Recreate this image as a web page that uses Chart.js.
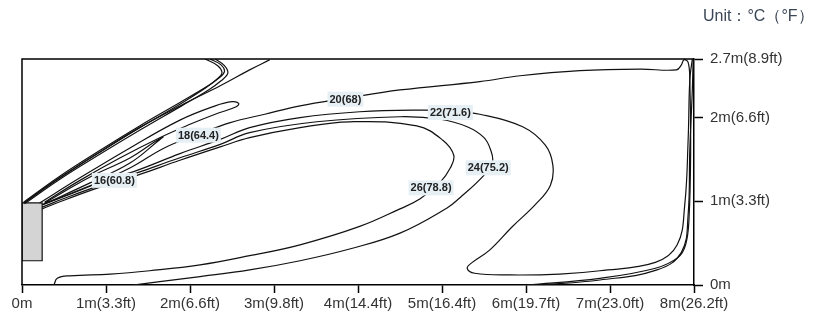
<!DOCTYPE html>
<html>
<head>
<meta charset="utf-8">
<script src="https://cdn.jsdelivr.net/npm/chart.js@4.4.1/dist/chart.umd.min.js"></script>
<style>
  body { margin: 0; background: #fff; }
  #wrap { position: relative; width: 815px; height: 320px; }
  #unit { position: absolute; left: 703px; top: 6px; font: 16px "Liberation Sans", Arial, sans-serif; color: #3b4656; white-space: nowrap; }
</style>
</head>
<body>
<div id="wrap">
  <canvas id="chart" width="815" height="320"></canvas>
  <div id="unit">Unit：°C（°F）</div>
</div>
<script>
// axes
const xTickLabels = ['0m', '1m(3.3ft)', '2m(6.6ft)', '3m(9.8ft)', '4m(14.4ft)', '5m(16.4ft)', '6m(19.7ft)', '7m(23.0ft)', '8m(26.2ft)'];
const yTickValues = [0, 1, 2, 2.7];
const yTickLabels = ['0m', '1m(3.3ft)', '2m(6.6ft)', '2.7m(8.9ft)'];

// indoor unit outline (m)
const unitBox = [[0, 0.98], [0.24, 0.98], [0.24, 0.29], [0, 0.29], [0, 0.98]];

// contour lines, [x m, y m]
const jetOuterA = [[0.02,0.98],[0.45,1.28],[0.93,1.59],[1.40,1.88],[1.88,2.16],[2.18,2.35],[2.31,2.45],[2.38,2.53],[2.33,2.62],[2.18,2.70]];
const jetOuterB = [[0.02,0.99],[0.45,1.30],[0.93,1.61],[1.40,1.90],[1.88,2.18],[2.20,2.37],[2.34,2.47],[2.41,2.55],[2.37,2.63],[2.24,2.70]];
const jetOuterC = [[0.03,0.97],[0.46,1.27],[0.94,1.57],[1.42,1.86],[1.90,2.14],[2.22,2.33],[2.37,2.44],[2.45,2.53],[2.41,2.62],[2.30,2.70]];
const jetToTop = [[0.02,0.98],[0.45,1.28],[0.93,1.59],[1.40,1.88],[1.94,2.17],[2.36,2.38],[2.71,2.57],[2.95,2.69]];
const tongue18 = [[0.21,0.98],[0.69,1.28],[1.29,1.64],[1.88,1.97],[2.30,2.14],[2.50,2.19],[2.58,2.17],[2.55,2.13],[2.30,2.04],[2.00,1.92],[1.64,1.76],[1.17,1.52],[0.69,1.25],[0.27,0.99]];
const tongue16 = [[0.27,0.98],[0.81,1.29],[1.29,1.52],[1.58,1.71],[1.68,1.77],[1.62,1.72],[1.29,1.46],[0.81,1.22],[0.27,0.97]];
const line20 = [[0.25,0.96],[0.81,1.18],[1.29,1.40],[1.70,1.64],[2.10,1.80],[2.48,1.94],[2.89,2.04],[3.31,2.14],[3.85,2.23],[4.50,2.33],[5.45,2.43],[5.93,2.50],[6.64,2.56],[7.36,2.58],[7.79,2.57],[7.85,2.63],[7.88,2.69],[7.93,2.66],[7.95,2.45],[7.96,1.61],[7.94,0.78],[7.90,0.48],[7.81,0.33],[7.54,0.20],[6.88,0.08],[6.01,0]];
const line22 = [[0.24,0.96],[0.57,1.09],[0.93,1.23],[1.37,1.37],[1.88,1.57],[2.36,1.74],[2.71,1.88],[3.31,2.00],[4.02,2.07],[4.74,2.09],[5.10,2.08],[5.45,2.04],[5.96,1.89],[6.23,1.67],[6.32,1.43],[6.29,1.19],[6.11,0.96],[5.83,0.69],[5.57,0.42],[5.36,0.27],[5.30,0.20],[5.39,0.14],[5.81,0.12],[6.40,0.13],[6.88,0.17],[7.54,0.27],[7.80,0.48],[7.89,0.96],[7.93,1.73],[7.95,2.45],[7.98,2.70]];
const line24 = [[0.24,0.93],[0.57,1.06],[0.93,1.19],[1.37,1.34],[1.88,1.52],[2.36,1.68],[2.71,1.82],[3.51,1.95],[4.50,2.01],[4.98,1.98],[5.30,1.89],[5.50,1.76],[5.58,1.61],[5.60,1.47],[5.49,1.30],[5.21,1.04],[5.06,0.92],[4.50,0.62],[3.90,0.43],[3.31,0.29],[2.71,0.18],[2.12,0.10],[1.64,0.04],[1.32,0]];
const line26 = [[0.24,0.91],[0.57,1.04],[0.93,1.17],[1.37,1.31],[1.88,1.49],[2.36,1.65],[2.71,1.76],[3.31,1.88],[3.90,1.95],[4.70,1.90],[5.01,1.73],[5.14,1.55],[5.10,1.40],[4.98,1.23],[4.74,1.03],[4.50,0.91],[4.02,0.70],[3.31,0.48],[2.71,0.35],[2.12,0.24],[1.52,0.17],[1.05,0.13],[0.57,0.11],[0.42,0.08],[0.38,0]];
const wallLine = [[6.17,0],[6.88,0.06],[7.56,0.18],[7.85,0.39],[7.93,0.84],[7.95,1.61],[7.98,2.33],[7.99,2.70]];

// contour labels: text and where it sits (m)
const labelTexts = ['16(60.8)', '18(64.4)', '20(68)', '22(71.6)', '24(75.2)', '26(78.8)'];
const labelX = [1.10, 2.10, 3.85, 5.10, 5.55, 4.87];
const labelY = [1.25, 1.79, 2.22, 2.06, 1.40, 1.16];

const contours = [jetOuterA, jetOuterB, jetOuterC, jetToTop, tongue18, tongue16, line20, line22, line24, line26, wallLine];

function toPts(arr) {
  return arr.map(p => ({x: p[0], y: p[1]}));
}

const datasets = contours.map(c => ({
  data: toPts(c),
  showLine: true,
  borderColor: '#111',
  borderWidth: 1.2,
  pointRadius: 0,
  tension: 0.4,
  fill: false
}));

datasets.push({
  data: toPts(unitBox),
  showLine: true,
  borderColor: '#111',
  borderWidth: 1.2,
  backgroundColor: '#d4d4d4',
  pointRadius: 0,
  tension: 0,
  fill: 'shape'
});

const frameAndLabels = {
  id: 'frameAndLabels',
  afterDatasetsDraw(chart) {
    const ctx = chart.ctx;
    const a = chart.chartArea;
    const xs = chart.scales.x, ys = chart.scales.y;
    ctx.save();
    ctx.strokeStyle = '#000';
    ctx.lineWidth = 1.5;
    ctx.beginPath();
    ctx.moveTo(a.left, a.bottom);
    ctx.lineTo(a.left, a.top);
    ctx.lineTo(a.right, a.top);
    ctx.stroke();

    ctx.font = 'bold 11px "Liberation Sans", Arial, sans-serif';
    ctx.textAlign = 'center';
    ctx.textBaseline = 'middle';
    labelTexts.forEach((t, i) => {
      const px = xs.getPixelForValue(labelX[i]);
      const py = ys.getPixelForValue(labelY[i]);
      const w = ctx.measureText(t).width + 4;
      ctx.fillStyle = '#e5eff4';
      ctx.fillRect(px - w / 2, py - 7.5, w, 15);
      ctx.fillStyle = '#222';
      ctx.fillText(t, px, py + 0.5);
    });
    ctx.restore();
  }
};

new Chart(document.getElementById('chart'), {
  type: 'scatter',
  data: { datasets: datasets },
  plugins: [frameAndLabels],
  options: {
    responsive: false,
    animation: false,
    layout: { padding: { top: 59, left: 22, right: 0, bottom: 0 } },
    plugins: { legend: { display: false }, tooltip: { enabled: false } },
    scales: {
      x: {
        type: 'linear',
        min: 0,
        max: 8,
        afterFit: s => { s.height = 35; },
        border: { color: '#000', width: 1.5 },
        grid: { drawOnChartArea: false, drawTicks: true, tickLength: 8, tickColor: '#000', tickWidth: 1.5 },
        ticks: {
          stepSize: 1,
          padding: 2,
          maxRotation: 0,
          autoSkip: false,
          color: '#333',
          font: { size: 15, family: '"Liberation Sans", Arial, sans-serif' },
          callback: v => xTickLabels[v]
        }
      },
      y: {
        type: 'linear',
        position: 'right',
        min: 0,
        max: 2.7,
        afterBuildTicks: s => { s.ticks = yTickValues.map(v => ({value: v})); },
        afterFit: s => { s.width = 121; },
        border: { color: '#000', width: 1.5 },
        grid: { drawOnChartArea: false, drawTicks: true, tickLength: 9, tickColor: '#000', tickWidth: 1.5 },
        ticks: {
          padding: 7,
          autoSkip: false,
          color: '#333',
          font: { size: 15, family: '"Liberation Sans", Arial, sans-serif' },
          callback: v => yTickLabels[yTickValues.indexOf(v)]
        }
      }
    }
  }
});
</script>
</body>
</html>
